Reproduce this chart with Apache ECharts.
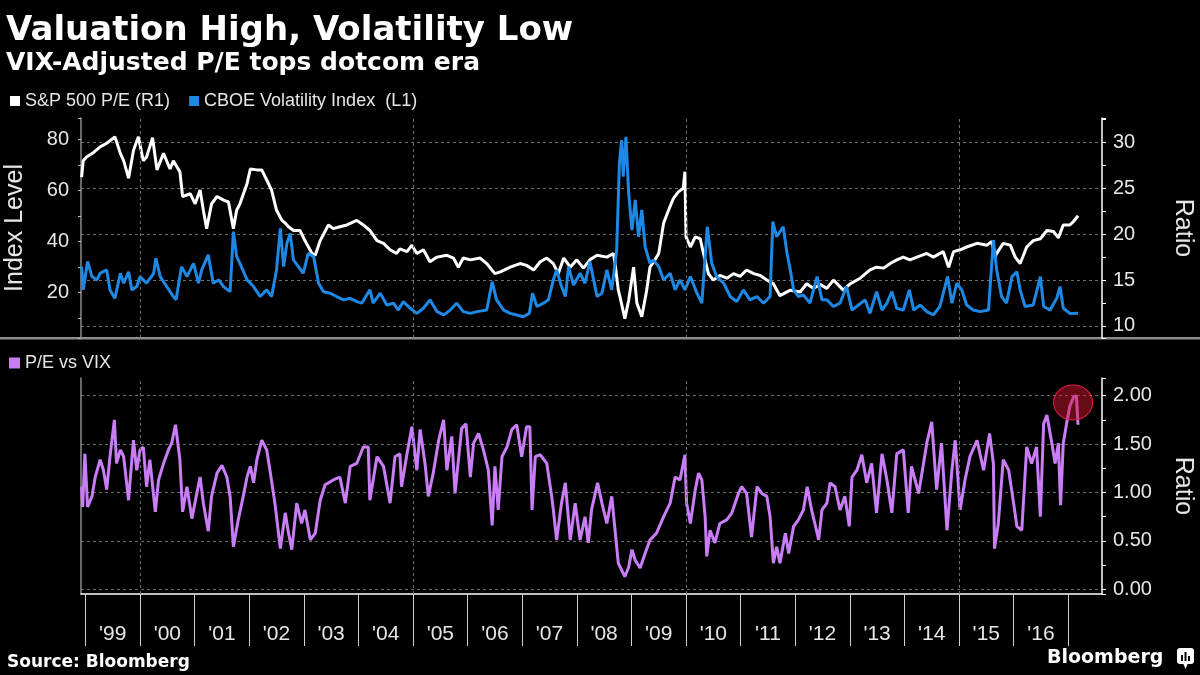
<!DOCTYPE html>
<html><head><meta charset="utf-8">
<script src="https://cdn.jsdelivr.net/npm/echarts@6/dist/echarts.min.js"></script>
<style>html,body{margin:0;padding:0;background:#000}#c{width:1200px;height:675px}</style>
</head><body><div id="c"></div>
<script>
// ---- data (x values are decimal years) ----
const peYears = [1998.93,1998.96,1999.02,1999.15,1999.27,1999.39,1999.54,1999.64,1999.70,1999.79,1999.88,1999.97,2000.06,2000.12,2000.23,2000.31,2000.43,2000.55,2000.61,2000.73,2000.78,2000.92,2001.01,2001.10,2001.16,2001.22,2001.31,2001.41,2001.53,2001.62,2001.71,2001.77,2001.83,2001.96,2002.02,2002.14,2002.23,2002.32,2002.41,2002.50,2002.60,2002.66,2002.72,2002.81,2002.93,2003.02,2003.15,2003.21,2003.30,2003.45,2003.54,2003.66,2003.79,2003.97,2004.09,2004.21,2004.34,2004.46,2004.58,2004.70,2004.76,2004.89,2004.98,2005.07,2005.19,2005.31,2005.44,2005.62,2005.74,2005.83,2005.92,2006.05,2006.23,2006.35,2006.50,2006.60,2006.78,2006.96,2007.08,2007.21,2007.33,2007.45,2007.57,2007.66,2007.76,2007.88,2008.00,2008.12,2008.24,2008.37,2008.55,2008.67,2008.70,2008.76,2008.79,2008.88,2008.95,2009.04,2009.10,2009.19,2009.28,2009.34,2009.43,2009.50,2009.59,2009.68,2009.77,2009.86,2009.95,2009.98,2010.00,2010.08,2010.17,2010.26,2010.32,2010.41,2010.50,2010.62,2010.75,2010.87,2010.99,2011.11,2011.24,2011.36,2011.48,2011.60,2011.72,2011.91,2012.09,2012.21,2012.33,2012.46,2012.58,2012.70,2012.88,2013.01,2013.19,2013.37,2013.49,2013.62,2013.74,2013.86,2013.98,2014.10,2014.23,2014.41,2014.53,2014.71,2014.81,2014.90,2015.02,2015.14,2015.33,2015.51,2015.60,2015.66,2015.69,2015.81,2015.94,2016.03,2016.12,2016.24,2016.36,2016.49,2016.61,2016.73,2016.82,2016.91,2017.03,2017.10,2017.18];
const peValues = [26.2,28.0,28.4,28.9,29.5,29.9,30.6,28.8,28.0,26.1,29.1,30.6,28.0,28.4,30.5,27.0,28.8,27.1,28.0,26.8,24.1,24.4,23.3,24.8,22.6,20.6,23.3,24.1,23.7,23.5,20.6,22.6,23.3,25.5,27.1,27.0,27.0,25.9,24.8,22.6,21.5,21.2,20.8,20.4,20.4,19.3,17.9,17.7,19.3,21.0,20.6,20.8,21.0,21.5,21.0,20.4,19.3,19.0,18.3,17.9,18.4,18.1,18.8,17.9,18.3,17.0,17.5,17.7,17.4,16.4,17.4,17.2,17.4,16.8,15.7,15.9,16.4,16.8,16.6,16.1,17.0,17.4,16.8,15.7,17.4,16.4,17.2,16.3,17.2,17.7,17.5,17.9,16.8,13.9,13.2,10.8,12.8,16.4,12.5,11.0,13.9,16.4,17.2,17.9,21.2,22.6,23.9,24.6,25.0,26.8,19.7,18.6,19.7,19.5,17.9,15.7,15.0,15.5,15.2,15.7,15.4,16.1,15.7,15.5,15.0,14.6,13.3,13.9,13.7,14.6,14.1,14.5,14.1,15.0,13.9,14.6,15.2,16.1,16.4,16.3,16.8,17.2,17.5,17.2,17.5,17.9,17.5,18.1,16.4,18.1,18.3,18.6,19.0,18.8,19.2,17.5,17.9,19.0,18.8,17.5,16.8,18.6,19.3,19.5,20.4,20.3,19.6,21.0,21.0,21.4,22.0];

const vixYears = [1998.93,1998.96,1999.04,1999.12,1999.21,1999.27,1999.39,1999.45,1999.54,1999.64,1999.70,1999.79,1999.85,1999.94,2000.00,2000.12,2000.25,2000.29,2000.37,2000.49,2000.61,2000.66,2000.76,2000.86,2000.98,2001.07,2001.13,2001.25,2001.34,2001.44,2001.53,2001.65,2001.71,2001.77,2001.83,2001.96,2002.08,2002.20,2002.32,2002.41,2002.50,2002.57,2002.63,2002.69,2002.75,2002.81,2002.90,2002.99,2003.08,2003.18,2003.27,2003.36,2003.48,2003.60,2003.73,2003.85,2003.97,2004.06,2004.21,2004.27,2004.40,2004.52,2004.64,2004.73,2004.82,2004.95,2005.07,2005.19,2005.31,2005.44,2005.56,2005.68,2005.80,2005.92,2006.05,2006.17,2006.35,2006.45,2006.53,2006.66,2006.78,2006.90,2007.02,2007.13,2007.19,2007.27,2007.39,2007.48,2007.57,2007.63,2007.72,2007.79,2007.85,2007.94,2008.06,2008.15,2008.24,2008.37,2008.46,2008.55,2008.64,2008.73,2008.78,2008.82,2008.85,2008.90,2008.95,2009.01,2009.07,2009.13,2009.19,2009.25,2009.34,2009.40,2009.50,2009.59,2009.71,2009.80,2009.89,2009.98,2010.08,2010.20,2010.29,2010.39,2010.47,2010.56,2010.69,2010.81,2010.93,2011.05,2011.17,2011.30,2011.42,2011.54,2011.59,2011.66,2011.78,2011.85,2011.91,2011.97,2012.06,2012.15,2012.27,2012.40,2012.49,2012.58,2012.70,2012.82,2012.94,2013.04,2013.16,2013.28,2013.37,2013.49,2013.59,2013.68,2013.77,2013.86,2013.98,2014.09,2014.17,2014.29,2014.41,2014.53,2014.65,2014.79,2014.87,2014.96,2015.05,2015.14,2015.26,2015.39,2015.54,2015.63,2015.69,2015.78,2015.87,2015.97,2016.06,2016.12,2016.21,2016.36,2016.49,2016.55,2016.67,2016.79,2016.85,2016.91,2017.03,2017.18];
const vixValues = [30.2,21.1,32.2,26.3,25.0,27.6,28.9,21.1,17.8,27.6,23.7,28.2,21.1,22.4,26.3,23.7,27.6,33.5,26.3,22.4,18.5,17.2,30.2,26.3,31.5,23.7,28.9,34.8,23.7,25.0,22.4,20.4,43.9,34.1,31.5,25.0,22.4,18.5,21.1,18.5,28.9,45.2,30.2,39.3,43.2,32.8,30.2,27.6,35.4,34.1,23.7,20.4,19.8,18.5,17.2,17.8,16.5,15.9,21.1,15.9,19.8,15.2,15.9,13.2,16.5,13.9,11.9,13.9,17.2,12.6,11.3,13.2,15.9,12.6,11.9,12.6,13.2,24.3,17.2,13.2,11.9,11.3,10.6,11.9,19.8,14.6,15.9,17.2,25.0,28.9,22.4,18.5,30.2,23.0,27.6,23.7,32.2,18.5,19.8,28.9,21.1,36.7,70.6,79.7,65.4,81.0,58.9,44.5,56.3,41.9,52.4,38.0,31.5,32.8,30.2,25.0,27.6,21.1,25.0,21.1,26.3,19.8,15.9,45.8,31.5,26.3,23.7,18.5,16.5,21.1,17.2,18.5,15.9,18.5,47.8,41.9,45.8,35.4,28.9,21.1,18.5,19.1,15.9,26.3,17.2,17.2,14.6,15.9,22.4,13.2,15.2,17.2,11.9,20.4,13.2,15.9,20.4,13.9,13.2,21.1,13.2,15.2,12.6,11.3,14.6,26.3,15.9,23.7,21.1,15.2,13.2,12.6,13.2,40.6,28.9,18.5,15.9,26.3,28.2,21.1,14.6,15.2,26.3,14.6,13.2,17.8,22.4,13.9,11.9,12.0];

const ratioYears = [1998.93,1998.95,1998.99,1999.04,1999.12,1999.18,1999.27,1999.33,1999.39,1999.45,1999.53,1999.57,1999.64,1999.70,1999.79,1999.88,1999.94,2000.00,2000.06,2000.12,2000.18,2000.28,2000.34,2000.43,2000.52,2000.58,2000.65,2000.73,2000.78,2000.86,2000.95,2001.04,2001.10,2001.16,2001.25,2001.31,2001.41,2001.50,2001.59,2001.65,2001.71,2001.80,2001.89,2001.96,2002.02,2002.08,2002.14,2002.23,2002.32,2002.38,2002.47,2002.57,2002.66,2002.72,2002.78,2002.87,2002.96,2003.02,2003.12,2003.21,2003.30,2003.39,2003.54,2003.66,2003.76,2003.85,2003.97,2004.09,2004.18,2004.21,2004.34,2004.46,2004.58,2004.67,2004.76,2004.79,2004.89,2004.98,2005.07,2005.13,2005.22,2005.28,2005.37,2005.47,2005.56,2005.62,2005.71,2005.77,2005.89,2005.97,2006.05,2006.11,2006.20,2006.29,2006.38,2006.45,2006.50,2006.56,2006.63,2006.72,2006.81,2006.90,2006.99,2007.08,2007.14,2007.18,2007.24,2007.33,2007.45,2007.54,2007.57,2007.63,2007.72,2007.79,2007.88,2007.97,2008.06,2008.15,2008.21,2008.27,2008.38,2008.46,2008.55,2008.64,2008.70,2008.76,2008.82,2008.88,2008.95,2009.01,2009.07,2009.16,2009.25,2009.34,2009.46,2009.59,2009.71,2009.80,2009.89,2009.98,2010.01,2010.08,2010.17,2010.23,2010.29,2010.35,2010.38,2010.44,2010.53,2010.62,2010.75,2010.84,2010.96,2011.02,2011.11,2011.20,2011.30,2011.39,2011.48,2011.54,2011.60,2011.66,2011.72,2011.82,2011.88,2011.97,2012.06,2012.15,2012.22,2012.30,2012.36,2012.43,2012.49,2012.58,2012.64,2012.73,2012.82,2012.91,2012.99,2013.04,2013.13,2013.22,2013.31,2013.40,2013.49,2013.59,2013.68,2013.77,2013.86,2013.98,2014.07,2014.13,2014.26,2014.35,2014.41,2014.50,2014.59,2014.68,2014.78,2014.87,2014.93,2015.02,2015.11,2015.20,2015.33,2015.45,2015.56,2015.63,2015.65,2015.72,2015.81,2015.91,2016.00,2016.06,2016.15,2016.24,2016.33,2016.42,2016.49,2016.55,2016.61,2016.70,2016.76,2016.82,2016.86,2016.91,2016.97,2017.03,2017.10,2017.15,2017.18];
const ratioValues = [1.06,0.85,1.40,0.85,0.96,1.16,1.34,1.23,1.03,1.37,1.75,1.30,1.44,1.37,0.92,1.54,1.23,1.44,1.47,1.06,1.34,0.80,1.13,1.30,1.44,1.51,1.70,1.34,0.80,1.06,0.73,0.99,1.16,0.89,0.60,0.96,1.20,1.28,1.16,0.96,0.44,0.72,0.96,1.16,1.27,1.10,1.34,1.54,1.44,1.23,0.89,0.42,0.79,0.58,0.41,0.89,0.68,0.82,0.51,0.58,0.92,1.08,1.13,1.16,0.89,1.27,1.30,1.47,1.47,0.92,1.37,1.27,0.89,1.37,1.40,1.06,1.40,1.68,1.23,1.65,1.30,0.96,1.20,1.54,1.75,1.23,1.58,0.99,1.66,1.71,1.16,1.51,1.61,1.44,1.23,0.66,1.27,0.82,1.37,1.47,1.65,1.70,1.37,1.68,1.68,0.82,1.37,1.39,1.30,0.96,0.82,0.51,0.89,1.10,0.51,0.89,0.51,0.75,0.48,0.82,1.10,0.89,0.68,0.96,0.61,0.27,0.20,0.13,0.23,0.41,0.30,0.22,0.37,0.51,0.58,0.75,0.89,1.16,1.13,1.39,0.89,0.68,1.03,1.20,1.13,0.75,0.34,0.61,0.48,0.68,0.72,0.79,0.99,1.06,0.99,0.54,1.06,0.99,0.96,0.75,0.27,0.44,0.27,0.58,0.37,0.65,0.72,0.82,1.06,0.82,0.68,0.51,0.82,0.89,1.10,1.06,0.82,0.96,0.65,1.16,1.23,1.39,1.10,1.30,0.79,1.40,1.13,0.79,1.40,1.44,0.79,1.27,0.99,1.30,1.51,1.73,1.03,1.51,0.61,1.23,1.54,0.82,1.13,1.37,1.54,1.23,1.61,1.30,0.42,0.68,1.34,1.23,0.89,0.65,0.61,1.47,1.30,1.47,0.75,1.71,1.80,1.51,1.30,1.51,0.87,1.51,1.71,1.89,1.99,2.00,1.70];

const yearTicks = [1999,2000,2001,2002,2003,2004,2005,2006,2007,2008,2009,2010,2011,2012,2013,2014,2015,2016,2017];
const yearLabels = ["'99","'00","'01","'02","'03","'04","'05","'06","'07","'08","'09","'10","'11","'12","'13","'14","'15","'16"];
const gridYears = [2000,2005,2010,2015];
const highlightPoint = [2017.09, 1.93];

// ---- chart ----
const FONT = "'Liberation Sans', Arial, sans-serif";
const BOLD = "'DejaVu Sans', sans-serif";
const TXT = '#e6e6e6';
const X_MIN = 1998.919, X_MAX = 2017.619;
const pairs = (xs, ys) => xs.map((x, i) => [x, ys[i]]);
const dashed = { type: [3, 3], color: '#6e6e6e', width: 1 };

const chart = echarts.init(document.getElementById('c'), null, { renderer: 'canvas' });
const vLines = gridYears.map(y => ({ xAxis: y }));

chart.setOption({
  backgroundColor: '#000',
  animation: false,
  title: [
    { text: 'Valuation High, Volatility Low', left: 6, top: 14, padding: 0,
      textStyle: { color: '#fff', fontFamily: BOLD, fontWeight: 'bold', fontSize: 34 } },
    { text: 'VIX-Adjusted P/E tops dotcom era', left: 6, top: 51, padding: 0,
      textStyle: { color: '#fff', fontFamily: BOLD, fontWeight: 'bold', fontSize: 25 } },
    { text: 'Source: Bloomberg', left: 7, top: 654, padding: 0,
      textStyle: { color: '#fff', fontFamily: BOLD, fontWeight: 'bold', fontSize: 17 } },
    { text: 'Bloomberg', left: 1047, top: 649, padding: 0,
      textStyle: { color: '#fff', fontFamily: BOLD, fontWeight: 'bold', fontSize: 19 } }
  ],
  legend: [
    { data: ['S&P 500 P/E (R1)', 'CBOE Volatility Index  (L1)'], left: 10, top: 92, padding: 0,
      icon: 'rect', itemWidth: 10, itemHeight: 10, itemGap: 19, selectedMode: false,
      textStyle: { color: TXT, fontSize: 18, fontFamily: FONT } },
    { data: ['P/E vs VIX'], left: 9, top: 354, padding: 0,
      icon: 'rect', itemWidth: 11, itemHeight: 11, selectedMode: false,
      textStyle: { color: TXT, fontSize: 18, fontFamily: FONT } }
  ],
  grid: [
    { left: 81, right: 98, top: 118, height: 220, containLabel: false, outerBoundsMode: 'none' },
    { left: 81, right: 98, top: 378, height: 216, containLabel: false, outerBoundsMode: 'none' }
  ],
  xAxis: [
    { gridIndex: 0, type: 'value', min: X_MIN, max: X_MAX, show: false },
    { gridIndex: 1, type: 'value', min: X_MIN, max: X_MAX,
      axisLine: { onZero: false, lineStyle: { color: '#fff', width: 1.5 } },
      axisTick: { show: true, customValues: yearTicks, length: 52, lineStyle: { color: '#d0d0d0', width: 1 } },
      axisLabel: { customValues: yearTicks.slice(0, -1).map(y => y + 0.5),
        formatter: v => yearLabels[Math.round(v - 0.5) - 1999],
        color: TXT, fontSize: 21, fontFamily: FONT, margin: 30 },
      splitLine: { show: false } }
  ],
  yAxis: [
    { gridIndex: 0, type: 'value', position: 'left', min: 2.28, max: 88.33, minInterval: 20, maxInterval: 20,
      axisLine: { show: true, onZero: false, lineStyle: { color: '#8c8c8c', width: 1.5 } },
      axisTick: { show: true, length: 3, lineStyle: { color: '#bdbdbd' } },
      minorTick: { show: true, splitNumber: 2, length: 3, lineStyle: { color: '#bdbdbd' } },
      axisLabel: { color: TXT, fontSize: 20, fontFamily: FONT, margin: 12, showMinLabel: false, showMaxLabel: false },
      splitLine: { show: false },
      name: 'Index Level', nameLocation: 'middle', nameRotate: 90, nameGap: 53,
      nameTextStyle: { color: TXT, fontSize: 25, fontFamily: FONT } },
    { gridIndex: 0, type: 'value', position: 'right', min: 8.69, max: 32.65, minInterval: 5, maxInterval: 5,
      axisLine: { show: true, onZero: false, lineStyle: { color: '#fff', width: 1.5 } },
      axisTick: { show: true, length: 4, lineStyle: { color: '#fff' } },
      minorTick: { show: true, splitNumber: 2, length: 4, lineStyle: { color: '#fff' } },
      axisLabel: { color: TXT, fontSize: 20, fontFamily: FONT, margin: 11, showMinLabel: false, showMaxLabel: false },
      splitLine: { show: true, showMinLine: false, showMaxLine: false, lineStyle: dashed },
      name: 'Ratio', nameLocation: 'middle', nameRotate: -90, nameGap: 68,
      nameTextStyle: { color: TXT, fontSize: 25, fontFamily: FONT } },
    { gridIndex: 1, type: 'value', position: 'right', min: -0.0486, max: 2.183, minInterval: 0.5, maxInterval: 0.5,
      axisLine: { show: true, onZero: false, lineStyle: { color: '#fff', width: 1.5 } },
      axisTick: { show: true, length: 4, lineStyle: { color: '#fff' } },
      minorTick: { show: true, splitNumber: 2, length: 4, lineStyle: { color: '#fff' } },
      axisLabel: { color: TXT, fontSize: 20, fontFamily: FONT, margin: 11, showMinLabel: false, showMaxLabel: false,
        formatter: v => v.toFixed(2) },
      splitLine: { show: true, showMinLine: false, showMaxLine: false, lineStyle: dashed },
      name: 'Ratio', nameLocation: 'middle', nameRotate: -90, nameGap: 68,
      nameTextStyle: { color: TXT, fontSize: 25, fontFamily: FONT } },
    { gridIndex: 1, type: 'value', position: 'left', min: -0.0486, max: 2.183,
      axisLine: { show: true, onZero: false, lineStyle: { color: '#8c8c8c', width: 1.5 } },
      axisTick: { show: false }, axisLabel: { show: false }, splitLine: { show: false } }
  ],
  series: [
    { type: 'line', xAxisIndex: 0, yAxisIndex: 1, data: [], z: 1, silent: true,
      markLine: { silent: true, symbol: ['none', 'none'], label: { show: false }, lineStyle: dashed, data: vLines } },
    { type: 'line', xAxisIndex: 1, yAxisIndex: 2, data: [], z: 1, silent: true,
      markLine: { silent: true, symbol: ['none', 'none'], label: { show: false }, lineStyle: dashed, data: vLines } },
    { name: 'S&P 500 P/E (R1)', type: 'line', xAxisIndex: 0, yAxisIndex: 1, data: pairs(peYears, peValues),
      showSymbol: false, lineStyle: { color: '#ffffff', width: 3 }, itemStyle: { color: '#ffffff' } },
    { name: 'CBOE Volatility Index  (L1)', type: 'line', xAxisIndex: 0, yAxisIndex: 0, data: pairs(vixYears, vixValues),
      showSymbol: false, lineStyle: { color: '#1e88e5', width: 3 }, itemStyle: { color: '#1e88e5' } },
    { name: 'P/E vs VIX', type: 'line', xAxisIndex: 1, yAxisIndex: 2, data: pairs(ratioYears, ratioValues),
      showSymbol: false, lineStyle: { color: '#c97ef8', width: 3 }, itemStyle: { color: '#c97ef8' },
      markPoint: { silent: true, label: { show: false },
        data: [{ coord: highlightPoint, symbol: 'circle', symbolSize: [39, 35],
          itemStyle: { color: 'rgba(210,20,50,0.5)', borderColor: '#e01e48', borderWidth: 1 } }] } }
  ],
  graphic: [
    { type: 'rect', shape: { x: 0, y: 337, width: 1200, height: 2.5 }, style: { fill: '#8c8c8c' }, silent: true },
    { type: 'group', left: 1177, top: 648, silent: true, children: [
      { type: 'rect', shape: { x: 0, y: 0, width: 17, height: 16, r: 3 }, style: { fill: '#fff' } },
      { type: 'polygon', shape: { points: [[6, 15], [11, 15], [8.5, 21]] }, style: { fill: '#fff' } },
      { type: 'rect', shape: { x: 4, y: 7, width: 2, height: 6 }, style: { fill: '#000' } },
      { type: 'rect', shape: { x: 7.5, y: 4, width: 2, height: 9 }, style: { fill: '#000' } },
      { type: 'rect', shape: { x: 11, y: 8, width: 2, height: 5 }, style: { fill: '#000' } }
    ] }
  ]
});
</script>
</body></html>
